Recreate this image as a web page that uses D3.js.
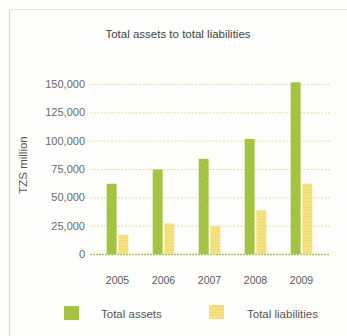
<!DOCTYPE html>
<html>
<head>
<meta charset="utf-8">
<script src="https://cdn.jsdelivr.net/npm/d3@7"></script>
<style>
  html, body { margin: 0; padding: 0; background: #fefefc; }
  svg { display: block; }
  text { font-family: "Liberation Sans", Arial, sans-serif; }
</style>
</head>
<body>
<div id="chart"></div>
<script>
// Balance sheet totals, TZS million
const years = ["2005", "2006", "2007", "2008", "2009"];
const seriesNames = ["Total assets", "Total liabilities"];
const totalAssets = [62000, 74500, 84000, 101500, 151500];
const totalLiabilities = [17000, 27000, 24500, 38500, 62000];
const yTicks = [0, 25000, 50000, 75000, 100000, 125000, 150000];
const colors = ["#a6c743", "#f4e27f"];

const W = 347, H = 336;
const svg = d3.select("#chart").append("svg")
  .attr("width", W).attr("height", H);

// Hatched fills for the bars
const defs = svg.append("defs");
const gp = defs.append("pattern").attr("id", "hatch-green")
  .attr("patternUnits", "userSpaceOnUse").attr("width", 3).attr("height", 3)
  .attr("patternTransform", "rotate(45)");
gp.append("rect").attr("width", 3).attr("height", 3).attr("fill", colors[0]);
gp.append("line").attr("x1", 0).attr("y1", 0).attr("x2", 0).attr("y2", 3)
  .attr("stroke", "#93b632").attr("stroke-width", 1);
const yp = defs.append("pattern").attr("id", "hatch-yellow")
  .attr("patternUnits", "userSpaceOnUse").attr("width", 3).attr("height", 3);
yp.append("rect").attr("width", 3).attr("height", 3).attr("fill", colors[1]);
yp.append("line").attr("x1", 0).attr("y1", 0).attr("x2", 3).attr("y2", 0)
  .attr("stroke", "#efd56c").attr("stroke-width", 1);
const fills = ["url(#hatch-green)", "url(#hatch-yellow)"];

// Frame lines (top and left)
svg.append("line").attr("x1", 9.5).attr("y1", 9.5).attr("x2", W).attr("y2", 9.5)
  .attr("stroke", "#e2e6bd").attr("stroke-width", 1.2);
svg.append("line").attr("x1", 9.5).attr("y1", 9.5).attr("x2", 9.5).attr("y2", H)
  .attr("stroke", "#d9e2a6").attr("stroke-width", 1.2);

// Title
svg.append("text").attr("x", 178).attr("y", 37.5)
  .attr("text-anchor", "middle").attr("font-size", 11.5).attr("fill", "#3f3f3f")
  .text("Total assets to total liabilities");

// Scales
const y = d3.scaleLinear().domain([0, 150000]).range([254, 84]);
const x0 = d3.scaleBand().domain(years).range([94.5, 324.5]).padding(0);
const x1 = d3.scaleBand().domain(seriesNames)
  .range([x0.bandwidth() * 0.265, x0.bandwidth() * 0.735]).paddingInner(0.15);

// Gridlines
const grid = svg.append("g");
grid.selectAll("line").data(yTicks).join("line")
  .attr("x1", 90).attr("x2", 330)
  .attr("y1", d => y(d) + 0.5).attr("y2", d => y(d) + 0.5)
  .attr("stroke", d => d === 0 ? "#a9c256" : "#e8dc96")
  .attr("stroke-width", d => d === 0 ? 1.3 : 1)
  .attr("stroke-dasharray", d => d === 0 ? "2,1" : "2,1.5");

// Y axis labels
const yAxis = d3.axisLeft(y).tickValues(yTicks).tickFormat(d3.format(",")).tickSize(0).tickPadding(0);
const ya = svg.append("g").attr("transform", "translate(85,0)").call(yAxis);
ya.select(".domain").remove();
ya.selectAll("text").attr("font-size", 11).attr("fill", "#6a6a6a")
  .attr("font-family", "'Liberation Sans', Arial, sans-serif");

// Y axis title
svg.append("text")
  .attr("transform", "translate(27,165) rotate(-90)")
  .attr("text-anchor", "middle").attr("font-size", 11.5).attr("fill", "#555")
  .text("TZS million");

// Bars
const rows = years.map((yr, i) => ({ year: yr, values: [totalAssets[i], totalLiabilities[i]] }));
const groups = svg.append("g").selectAll("g").data(rows).join("g")
  .attr("transform", d => `translate(${x0(d.year)},0)`);
groups.selectAll("rect")
  .data(d => d.values.map((v, k) => ({ key: seriesNames[k], value: v, k })))
  .join("rect")
  .attr("x", d => x1(d.key))
  .attr("width", x1.bandwidth())
  .attr("y", d => y(d.value))
  .attr("height", d => y(0) - y(d.value))
  .attr("fill", d => fills[d.k]);

// X axis labels
const xAxis = d3.axisBottom(x0).tickSize(0).tickPadding(0);
const xa = svg.append("g").attr("transform", "translate(0,277)").call(xAxis);
xa.select(".domain").remove();
xa.selectAll("text").attr("font-size", 10.5).attr("fill", "#5a5a5a")
  .attr("font-family", "'Liberation Sans', Arial, sans-serif");

// Legend
const legendX = [64, 209];
const legendTextX = [101, 247];
const legend = svg.append("g").selectAll("g").data(seriesNames).join("g");
legend.append("rect")
  .attr("x", (d, i) => legendX[i]).attr("y", (d, i) => i === 0 ? 306 : 305)
  .attr("width", 15).attr("height", 14)
  .attr("fill", (d, i) => fills[i]);
legend.append("text")
  .attr("x", (d, i) => legendTextX[i]).attr("y", 318)
  .attr("font-size", 11.5).attr("fill", "#555")
  .text(d => d);
</script>
</body>
</html>
